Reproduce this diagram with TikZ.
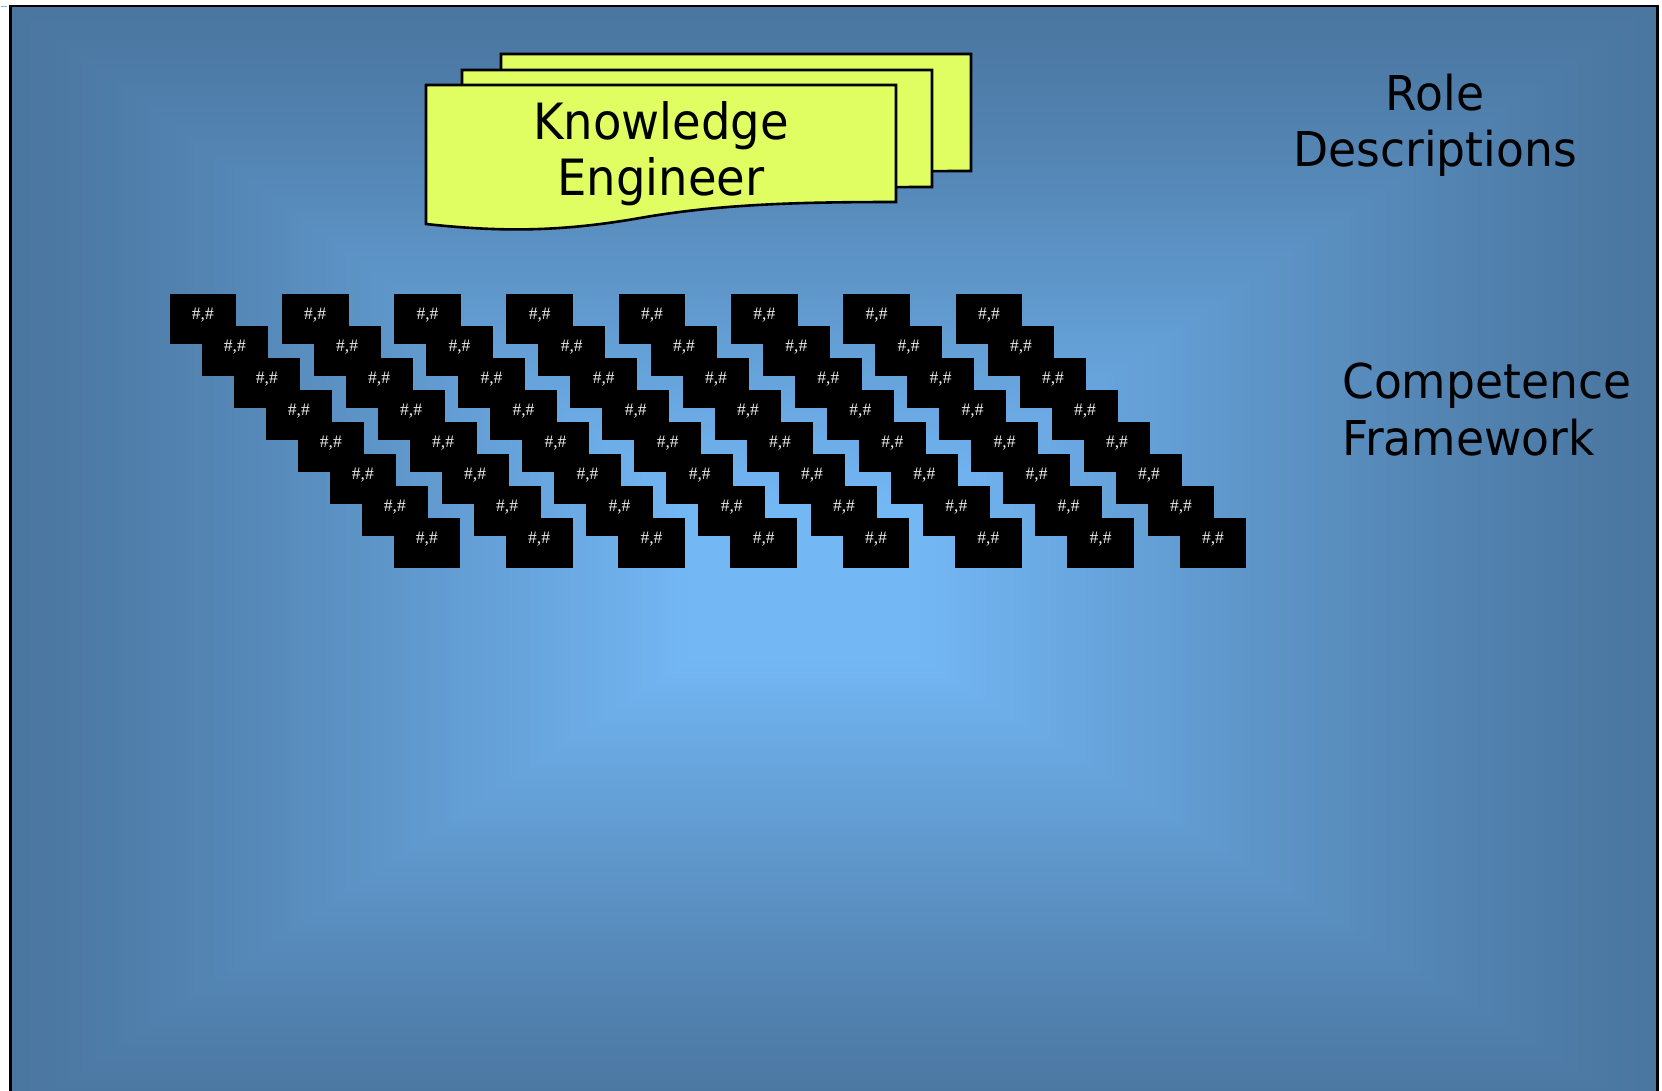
\documentclass[tikz,border=0pt]{standalone}
\usepackage{fontspec}
\newfontfamily\labfont[FakeStretch=0.95]{DejaVu Sans}
\newfontfamily\kefont[FakeStretch=0.93]{DejaVu Sans}
\newfontfamily\cellfont{Liberation Serif}
\usetikzlibrary{calc}
\definecolor{bgedge}{HTML}{4A76A0}
\definecolor{bgcenter}{HTML}{73B7F5}
\definecolor{docfill}{HTML}{E0FD62}
\begin{document}
\begin{tikzpicture}[x=1pt,y=-1pt,
  doc/.style={fill=docfill, draw=black, line width=2.6pt, line join=miter},
  cbox/.style={fill=black, draw=none, minimum width=66.7pt, minimum height=50pt,
    inner sep=0pt, anchor=north west, text=white!93!black,
    font={\cellfont\fontsize{17.5}{17.5}\selectfont}, text height=10pt, text depth=8.4pt},
  lab/.style={font={\labfont\fontsize{48}{56.5}\selectfont}, inner sep=0pt, text=black}]
\useasboundingbox (0,0) rectangle (1662,1090);
% background rectangular gradient
\begin{scope}
\clip (10.5,6) rectangle (1657.5,1090);
\foreach \i in {0,...,120}{
  \pgfmathsetmacro\s{\i/120}
  \pgfmathsetmacro\p{min(100,120*(\s^1.2))}
  \fill[bgcenter!\p!bgedge] ({10+\s*(800-10)},{5+\s*(585-5)}) rectangle ({1657-\s*(1657-800)},{1120-\s*(1120-585)});
}
\end{scope}
% frame
\draw[line width=2.4pt] (10.5,1095) -- (10.5,6.2) -- (1657.5,6.2) -- (1657.5,1095);
\draw[bgcenter, line width=1pt] (1,6.5) -- (7,6.5);
% stacked documents
\foreach \dx/\dy in {75/-31, 36/-15, 0/0}{
  \begin{scope}[shift={(\dx,\dy)}]
    \draw[doc] (426,85) -- (896,85) -- (896,202)
      .. controls (800,202) and (720,204) .. (640,218)
      .. controls (560,232) and (500,232) .. (426,224) -- cycle;
  \end{scope}
}
\node[lab, font={\kefont\fontsize{50}{56}\selectfont}, align=center, anchor=north] (ke) at (661,101) {Knowledge\\Engineer};
% competence grid
\foreach \c in {0,...,7}{
  \foreach \r in {0,...,7}{
    \node[cbox] (b\c\r) at ({169.3+112.3*\c+32*\r},{293.3+32*\r}) {\#,\#};
  }
}
% labels
\node[lab, align=center, anchor=north] (rd) at (1435,73.5) {Role\\Descriptions};
\node[lab, align=left, anchor=north west] (cf) at (1342,363) {Competence\\Framework};
\end{tikzpicture}
\end{document}
